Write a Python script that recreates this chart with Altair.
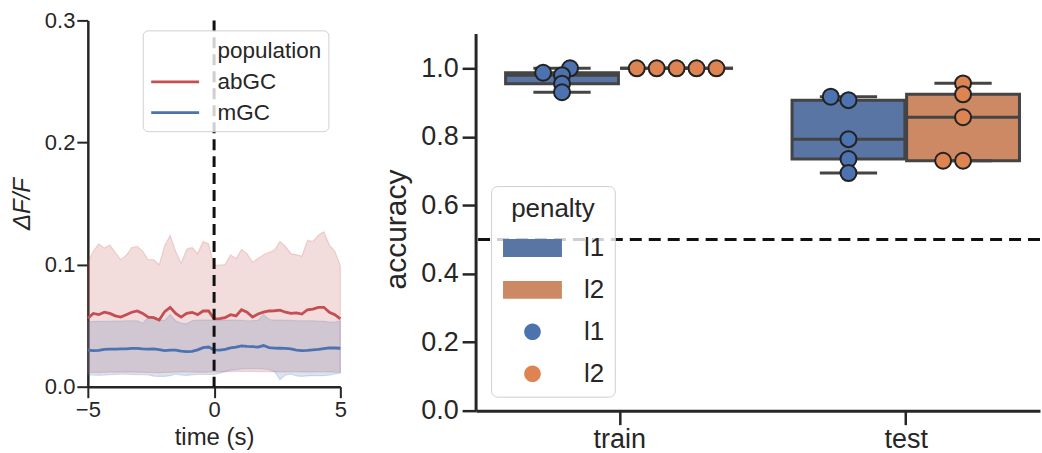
import altair as alt
import numpy as np
import pandas as pd

# ---------------- left panel data (ΔF/F traces) ----------------
time_s = [round(v, 4) for v in np.linspace(-5, 5, 47)]
abgc_mean = [0.056, 0.060, 0.059, 0.061, 0.060, 0.058, 0.057, 0.059, 0.061, 0.062,
             0.060, 0.057, 0.0565, 0.0546, 0.0615, 0.065, 0.060, 0.057, 0.060, 0.0609,
             0.059, 0.062, 0.062, 0.0555, 0.0557, 0.0565, 0.059, 0.058, 0.063, 0.061,
             0.057, 0.0595, 0.061, 0.062, 0.0622, 0.0627, 0.061, 0.060, 0.0605, 0.0595,
             0.063, 0.0635, 0.065, 0.065, 0.061, 0.059, 0.0555]
abgc_hi = [0.102, 0.111, 0.117, 0.1135, 0.116, 0.110, 0.104, 0.1076, 0.114, 0.115,
           0.111, 0.104, 0.104, 0.100, 0.1157, 0.124, 0.111, 0.101, 0.1125, 0.114,
           0.109, 0.119, 0.117, 0.0995, 0.0995, 0.100, 0.108, 0.105, 0.1125, 0.109,
           0.102, 0.105, 0.108, 0.110, 0.112, 0.119, 0.115, 0.109, 0.108, 0.107,
           0.120, 0.119, 0.124, 0.127, 0.116, 0.111, 0.099]
abgc_lo = [0.0115, 0.0118, 0.0117, 0.0118, 0.012, 0.0119, 0.012, 0.0121, 0.012, 0.0119,
           0.0118, 0.0117, 0.0116, 0.0115, 0.0117, 0.0118, 0.012, 0.0121, 0.0122, 0.012,
           0.0119, 0.0118, 0.012, 0.0121, 0.0122, 0.0123, 0.0124, 0.0125, 0.0125, 0.0126,
           0.0125, 0.0124, 0.0125, 0.0124, 0.0123, 0.0122, 0.0121, 0.0122, 0.0122, 0.0121,
           0.012, 0.0121, 0.0122, 0.0122, 0.0121, 0.012, 0.012]
mgc_mean = [0.030, 0.0296, 0.0298, 0.0305, 0.0307, 0.0307, 0.031, 0.031, 0.0313, 0.0314,
            0.031, 0.0308, 0.031, 0.0303, 0.0296, 0.030, 0.030, 0.0292, 0.0288, 0.029,
            0.0302, 0.032, 0.0325, 0.0302, 0.030, 0.0305, 0.0318, 0.0325, 0.0335, 0.033,
            0.0328, 0.0324, 0.0337, 0.032, 0.0316, 0.0315, 0.0313, 0.031, 0.030, 0.0296,
            0.0298, 0.0302, 0.0305, 0.0312, 0.0318, 0.0317, 0.0315]
mgc_hi = [0.053, 0.0533, 0.0535, 0.0535, 0.0536, 0.0537, 0.0538, 0.054, 0.054, 0.054,
          0.052, 0.0565, 0.056, 0.055, 0.054, 0.059, 0.054, 0.052, 0.0515, 0.054,
          0.0545, 0.0545, 0.0546, 0.0546, 0.0546, 0.0546, 0.0545, 0.0545, 0.0544, 0.054,
          0.054, 0.0545, 0.059, 0.055, 0.0545, 0.0545, 0.0544, 0.0543, 0.054, 0.054,
          0.054, 0.054, 0.0538, 0.0535, 0.053, 0.053, 0.054]
mgc_lo = [0.0098, 0.0095, 0.0093, 0.0095, 0.0098, 0.010, 0.0102, 0.0102, 0.010, 0.0099,
          0.0098, 0.0097, 0.0086, 0.0084, 0.0084, 0.009, 0.0103, 0.0095, 0.0092, 0.0097,
          0.0100, 0.0100, 0.0100, 0.0100, 0.011, 0.0125, 0.0135, 0.014, 0.0145, 0.0147,
          0.0147, 0.0147, 0.0145, 0.014, 0.0125, 0.0057, 0.0095, 0.0103, 0.0088, 0.0084,
          0.0088, 0.009, 0.009, 0.009, 0.0095, 0.0105, 0.0111]
populations = ["abGC", "mGC"]

# ---------------- right panel data (accuracy) ----------------
phases = ["train", "test"]
penalties = ["l1", "l2"]
train_l1 = [1.0, 0.98, 0.987, 0.955, 0.93]
train_l2 = [1.0, 1.0, 1.0, 1.0, 1.0]
test_l1 = [0.917, 0.907, 0.793, 0.735, 0.694]
test_l2 = [0.956, 0.924, 0.857, 0.73, 0.73]
chance = 0.5

# ---------------- styling ----------------
FONT = "Liberation Sans"
TXT = "#262626"
RED, BLUE = "#C44E52", "#4C72B0"
PT_BLUE, PT_ORANGE = "#4C72B0", "#DD8452"
BOX_BLUE, BOX_ORANGE = "#5875A4", "#CC8963"
BOXLINE = "#444444"

LW, LH = 253, 367
RW, RH = 565, 391
X_MIN = -0.5
PX_PER_UNIT = 287.0
X_MAX = X_MIN + RW / PX_PER_UNIT
Y_PX_PER_UNIT = 343.0
Y_MAX = RH / Y_PX_PER_UNIT

# ---------------- left chart ----------------
rows = []
for pop, m, lo, hi in [("abGC", abgc_mean, abgc_lo, abgc_hi), ("mGC", mgc_mean, mgc_lo, mgc_hi)]:
    for t, a, b, c in zip(time_s, m, lo, hi):
        rows.append({"time": t, "population": pop, "mean": a, "lo": b, "hi": c})
dfL = pd.DataFrame(rows)

xL_scale = alt.Scale(domain=[-5, 5], nice=False, zero=False)
yL_scale = alt.Scale(domain=[0, 0.3], nice=False)
xL_axis = alt.Axis(values=[-5, 0, 5], title="time (s)", labelFontSize=22, titleFontSize=24,
                   tickSize=11, tickWidth=2, domainWidth=2.5, labelPadding=2, titlePadding=5,
                   labelFlush=False)
yL_axis = alt.Axis(values=[0, 0.1, 0.2, 0.3], format=".1f", title="ΔF/F", titleFontStyle="italic",
                   labelFontSize=22, titleFontSize=24, tickSize=11, tickWidth=2, domainWidth=2.5,
                   labelPadding=2, titlePadding=10)


def xl(field):
    return alt.X(field, type="quantitative", scale=xL_scale, axis=xL_axis, title="time (s)")


def yl(field):
    return alt.Y(field, type="quantitative", scale=yL_scale, axis=yL_axis, title="ΔF/F")


band_scale = alt.Scale(domain=populations, range=[RED, BLUE])
line_scale = alt.Scale(domain=["population"] + populations, range=["transparent", RED, BLUE])
LINE_PATH = "M-2,0L2,0"

bands = alt.Chart(dfL).mark_area(fillOpacity=0.2, strokeOpacity=0.2, strokeWidth=1.2).encode(
    x=xl("time"), y=yl("lo"), y2="hi:Q",
    fill=alt.Fill("population:N", scale=band_scale, legend=None),
    stroke=alt.Stroke("population:N", scale=band_scale, legend=None),
)
lines = alt.Chart(dfL).mark_line(strokeWidth=2.8).encode(
    x=xl("time"), y=yl("mean"),
    color=alt.Color("population:N", scale=line_scale, legend=alt.Legend(
        title=None, orient="none", legendX=55, legendY=10, symbolType=LINE_PATH,
        symbolSize=576, symbolStrokeWidth=2.8, symbolOffset=12, labelOffset=29,
        labelFontSize=22.5, labelFont=FONT, labelColor=TXT, rowPadding=6, padding=7,
        fillColor="rgba(255,255,255,0.8)", strokeColor="#d0d0d0", cornerRadius=5)),
)
vline = alt.Chart(pd.DataFrame({"t": [0]})).mark_rule(
    strokeDash=[11, 6], strokeWidth=3, color="#111111").encode(x=alt.datum(0))

left = alt.layer(bands, lines, vline).properties(width=LW, height=LH)

# ---------------- right chart ----------------
def swarm_offsets(values, d=19.0, sy=870.0):
    vals = np.asarray(values, dtype=float)
    order = np.argsort(vals, kind="stable")
    placed = []
    offs = np.zeros(len(vals))
    for i in order:
        y = vals[i] * sy
        nb = [(px, py) for px, py in placed if abs(py - y) < d]
        cands = [0.0]
        for px, py in nb:
            dx = np.sqrt(max(d * d - (y - py) ** 2, 0.0)) * 1.05
            cands += [px - dx, px + dx]
        cands = sorted(cands, key=abs)
        chosen = cands[-1]
        for c in cands:
            if all((c - px) ** 2 + (y - py) ** 2 >= d * d * 0.999 for px, py in nb):
                chosen = c
                break
        offs[i] = chosen
        placed.append((chosen, y))
    return offs / PX_PER_UNIT


groups = {("train", "l1"): train_l1, ("train", "l2"): train_l2,
          ("test", "l1"): test_l1, ("test", "l2"): test_l2}
box_rows, pt_rows = [], []
for (ph, pen), vals in groups.items():
    arr = np.asarray(vals, dtype=float)
    q1, med, q3 = np.percentile(arr, [25, 50, 75])
    iqr = q3 - q1
    lo = arr[arr >= q1 - 1.5 * iqr].min()
    hi = arr[arr <= q3 + 1.5 * iqr].max()
    cx = phases.index(ph) + (-0.2 if pen == "l1" else 0.2)
    box_rows.append({"phase": ph, "key": pen, "q1": q1, "q3": q3, "med": med, "lo": lo, "hi": hi,
                     "cx": cx, "x0": cx - 0.197, "x1": cx + 0.197, "c0": cx - 0.1, "c1": cx + 0.1})
    for v, o in zip(arr, swarm_offsets(arr)):
        pt_rows.append({"phase": ph, "key": pen + " ", "acc": v, "px": cx + o})
dfB = pd.DataFrame(box_rows)
dfP = pd.DataFrame(pt_rows)

xR_scale = alt.Scale(domain=[X_MIN, X_MAX], nice=False, zero=False)
yR_scale = alt.Scale(domain=[0, Y_MAX], nice=False)
xR_axis = alt.Axis(values=[0, 1], labelExpr=f"['{phases[0]}', '{phases[1]}'][datum.value]",
                   title=None, labelFontSize=27, tickSize=14, tickWidth=2.5, domainWidth=3,
                   labelPadding=2, grid=False)
yR_axis = alt.Axis(values=[0, 0.2, 0.4, 0.6, 0.8, 1.0], format=".1f", title="accuracy",
                   labelFontSize=27, titleFontSize=30, tickSize=14, tickWidth=2.5, domain=False,
                   labelPadding=4, titlePadding=9, titleY=209)


def xr(field):
    return alt.X(field, type="quantitative", scale=xR_scale, axis=xR_axis, title=None)


def yr(field):
    return alt.Y(field, type="quantitative", scale=yR_scale, axis=yR_axis, title="accuracy")


keys = penalties + [p + " " for p in penalties]
RECT_PATH = "M-2.27,-0.69L2.27,-0.69L2.27,0.69L-2.27,0.69Z"
DOT_PATH = "M0.64,0A0.64,0.64,0,1,1,-0.64,0A0.64,0.64,0,1,1,0.64,0Z"
key_color = alt.Scale(domain=keys, range=[BOX_BLUE, BOX_ORANGE, PT_BLUE, PT_ORANGE])
key_shape = alt.Scale(domain=keys, range=[RECT_PATH, RECT_PATH, DOT_PATH, DOT_PATH])
legR = alt.Legend(title="penalty", orient="none", legendX=15, legendY=166, symbolSize=676,
                  symbolStrokeColor=BOXLINE, symbolStrokeWidth=1.5, symbolOpacity=1,
                  symbolOffset=17.5, labelOffset=37.5,
                  labelExpr="trim(datum.label)", titleFontSize=26, labelFontSize=26,
                  titleFont=FONT, labelFont=FONT, titleColor=TXT, labelColor=TXT,
                  titleFontWeight="normal", titleAnchor="middle", titlePadding=12,
                  rowPadding=15, padding=10,
                  fillColor="rgba(255,255,255,0.8)", strokeColor="#d0d0d0", cornerRadius=6)

one = pd.DataFrame({"a": [0]})
chance_rule = alt.Chart(one).mark_rule(strokeDash=[12, 7], strokeWidth=3, color="#111111").encode(
    y=alt.datum(chance))
boxes = alt.Chart(dfB).mark_rect(stroke=BOXLINE, strokeWidth=3).encode(
    x=xr("x0"), x2="x1:Q", y=yr("q1"), y2="q3:Q",
    color=alt.Color("key:N", scale=key_color, legend=legR))
wl = alt.Chart(dfB).mark_rule(color=BOXLINE, strokeWidth=3).encode(x=xr("cx"), y=yr("lo"), y2="q1:Q")
wh = alt.Chart(dfB).mark_rule(color=BOXLINE, strokeWidth=3).encode(x=xr("cx"), y=yr("q3"), y2="hi:Q")
cl = alt.Chart(dfB).mark_rule(color=BOXLINE, strokeWidth=3).encode(x=xr("c0"), x2="c1:Q", y=yr("lo"))
ch = alt.Chart(dfB).mark_rule(color=BOXLINE, strokeWidth=3).encode(x=xr("c0"), x2="c1:Q", y=yr("hi"))
md = alt.Chart(dfB).mark_rule(color=BOXLINE, strokeWidth=3).encode(x=xr("x0"), x2="x1:Q", y=yr("med"))
pts = alt.Chart(dfP).mark_point(filled=True, opacity=1, size=625, stroke="#222222", strokeWidth=2).encode(
    x=xr("px"), y=yr("acc"),
    color=alt.Color("key:N", scale=key_color, legend=legR),
    shape=alt.Shape("key:N", scale=key_shape, legend=legR))
yline = alt.Chart(one).mark_rule(strokeWidth=3, color=TXT).encode(
    x=alt.datum(X_MIN), y=alt.datum(0), y2=alt.datum(1.1))

right = alt.layer(chance_rule, boxes, wl, wh, cl, ch, md, pts, yline).properties(width=RW, height=RH)

chart = alt.hconcat(left, right, spacing=136, bounds="flush").resolve_scale(
    color="independent", fill="independent", stroke="independent", shape="independent"
).resolve_legend(
    color="independent", fill="independent", stroke="independent", shape="independent"
).properties(
    padding={"left": 10, "top": 9, "right": 0, "bottom": 2}
).configure_view(stroke=None).configure_axis(
    labelFont=FONT, titleFont=FONT, labelColor=TXT, titleColor=TXT, domainColor=TXT,
    tickColor=TXT, grid=False, titleFontWeight="normal"
).configure_legend(labelFont=FONT, titleFont=FONT)

chart.save("out.html", embed_options={"renderer": "svg", "actions": False})
